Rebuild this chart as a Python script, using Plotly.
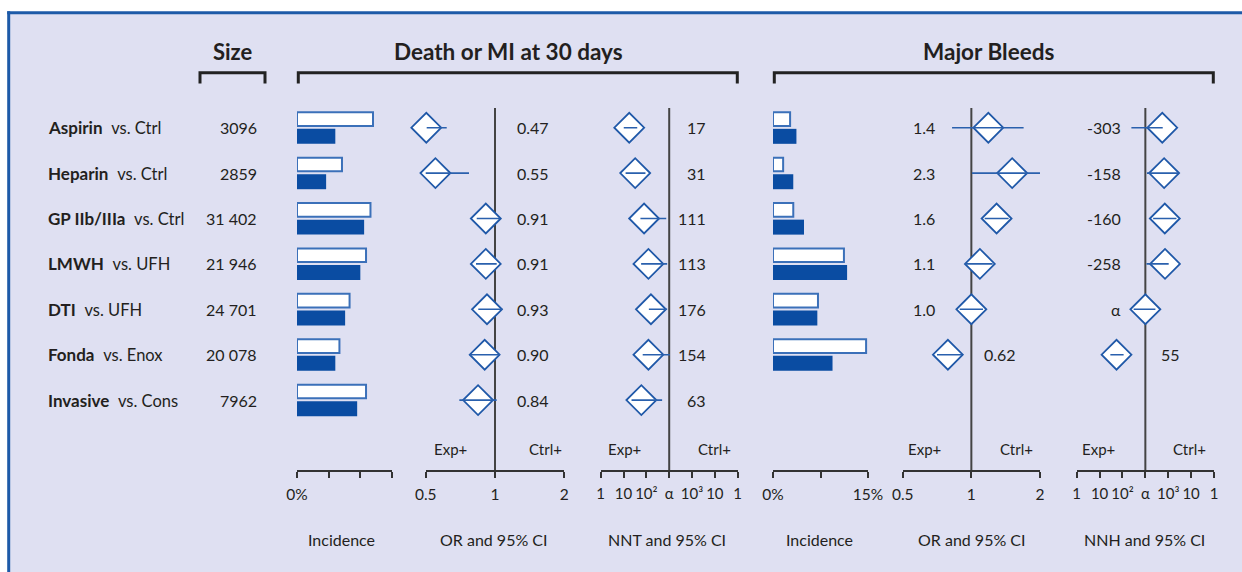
import plotly.graph_objects as go

W, H = 1242, 572
FONT = "Lato"
TXT = "#231f20"
LAV = "#dfe0f2"
FRAME = "#1d5aa8"
DARK = "#0a4ca2"
BAR_OUT = "#3b70b9"
OUT = "#1f58a8"
AXC = "#333333"

# ---------------- data ----------------
categories = ["Aspirin", "Heparin", "GP IIb/IIIa", "LMWH", "DTI", "Fonda", "Invasive"]
comparators = ["vs. Ctrl", "vs. Ctrl", "vs. Ctrl", "vs. UFH", "vs. UFH", "vs. Enox", "vs. Cons"]
sizes = ["3096", "2859", "31 402", "21 946", "24 701", "20 078", "7962"]

# Death or MI at 30 days
dm_inc_ctrl = [12.0, 7.1, 11.6, 10.9, 8.3, 6.7, 10.9]
dm_inc_exp = [6.05, 4.6, 10.6, 10.0, 7.6, 6.05, 9.5]
dm_or = [0.503, 0.551, 0.912, 0.912, 0.923, 0.902, 0.844]
dm_or_lo = [0.505, 0.472, 0.833, 0.827, 0.846, 0.774, 0.70]
dm_or_hi = [0.617, 0.771, 1.05, 1.017, 1.076, 1.05, 1.017]
dm_or_labels = ["0.47", "0.55", "0.91", "0.91", "0.93", "0.90", "0.84"]
# NNT axis position in log10 units from alpha (negative = Exp+ side)
dm_nnt_pos = [-1.75, -1.49, -1.10, -0.91, -0.80, -0.91, -1.22]
dm_nnt_lo = [-1.99, -1.91, -1.26, -1.23, -0.89, -1.16, -1.65]
dm_nnt_hi = [-1.40, -1.04, -0.13, -0.09, -0.09, 0.03, -0.31]
dm_nnt_labels = ["17", "31", "111", "113", "176", "154", "63"]

# Major bleeds
mb_inc_ctrl = [2.7, 1.6, 3.2, 11.2, 7.1, 14.7, None]
mb_inc_exp = [3.7, 3.2, 4.9, 11.7, 7.0, 9.4, None]
mb_or = [1.187, 1.51, 1.29, 1.09, 1.0, 0.789, None]
mb_or_lo = [0.823, 1.007, 1.144, 0.941, 0.889, 0.707, None]
mb_or_hi = [1.695, 2.0, 1.457, 1.24, 1.125, 0.91, None]
mb_or_labels = ["1.4", "2.3", "1.6", "1.1", "1.0", "0.62", ""]
mb_nnh_pos = [0.74, 0.82, 0.85, 0.86, 0.0, -1.26, None]
mb_nnh_lo = [-0.61, 0.07, 0.34, 0.05, -0.51, -1.53, None]
mb_nnh_hi = [0.76, 1.46, 1.36, 1.02, 0.44, -0.95, None]
mb_nnh_labels = ["-303", "-158", "-160", "-258", "\u03b1", "55", ""]

inc_ticks_dm = [0]
inc_ticktext_dm = ["0%"]
inc_minor_dm = [5, 10, 15]
inc_ticks_mb = [0, 15]
inc_ticktext_mb = ["0%", "15%"]
inc_minor_mb = [7.5]
or_ticks = [0.5, 1, 2]
or_ticktext = ["0.5", "1", "2"]
nn_ticks = [-3, -2, -1, 0, 1, 2, 3]
nn_ticktext = ["1", "10", "10\u00b2", "\u03b1", "10\u00b3", "10", "1"]

# ---------------- layout helpers ----------------
def px(p):
    return p / W

def py(p):
    return 1 - p / H

ROW0, ROWH = 127.7, 45.4
rows = list(range(len(categories)))
AXIS_Y = 471

fig = go.Figure()

def add_bars(xa, ctrl, exp):
    yc = [r - 0.19 for r, v in zip(rows, ctrl) if v is not None]
    ye = [r + 0.19 for r, v in zip(rows, exp) if v is not None]
    fig.add_trace(go.Bar(x=[v for v in ctrl if v is not None], y=yc, orientation="h", width=0.30,
                         marker=dict(color="white", line=dict(color=BAR_OUT, width=2)),
                         xaxis=xa, yaxis="y", showlegend=False, hoverinfo="skip"))
    fig.add_trace(go.Bar(x=[v for v in exp if v is not None], y=ye, orientation="h", width=0.33,
                         marker=dict(color=DARK, line=dict(width=0)),
                         xaxis=xa, yaxis="y", showlegend=False, hoverinfo="skip"))

def add_forest(xa, est, lo, hi):
    xs = [v for v in est if v is not None]
    ys = [r for r, v in zip(rows, est) if v is not None]
    fig.add_trace(go.Scatter(x=xs, y=ys, mode="markers", cliponaxis=False,
                             marker=dict(symbol="diamond", size=23, color="white",
                                         line=dict(color=OUT, width=1.8)),
                             xaxis=xa, yaxis="y", showlegend=False, hoverinfo="skip"))
    lx, ly = [], []
    for r, a, b in zip(rows, lo, hi):
        if a is None:
            continue
        lx += [a, b, None]
        ly += [r, r, None]
    fig.add_trace(go.Scatter(x=lx, y=ly, mode="lines", line=dict(color="#2a60ad", width=1.6),
                             xaxis=xa, yaxis="y", showlegend=False, hoverinfo="skip"))

add_bars("x", dm_inc_ctrl, dm_inc_exp)
add_forest("x2", dm_or, dm_or_lo, dm_or_hi)
add_forest("x3", dm_nnt_pos, dm_nnt_lo, dm_nnt_hi)
add_bars("x4", mb_inc_ctrl, mb_inc_exp)
add_forest("x5", mb_or, mb_or_lo, mb_or_hi)
add_forest("x6", mb_nnh_pos, mb_nnh_lo, mb_nnh_hi)

ax_common = dict(anchor="free", position=py(AXIS_Y), showline=True, linecolor=AXC, linewidth=2,
                 ticks="outside", ticklen=6, tickwidth=2, tickcolor=AXC, showgrid=False,
                 zeroline=False, tickmode="array", fixedrange=True, ticklabelstandoff=3,
                 automargin=False, tickangle=0, tickfont=dict(family=FONT, size=15.5, color=TXT))
nn_font = dict(family=FONT, size=15, color=TXT)
minor_common = dict(ticks="outside", ticklen=6, tickwidth=2, tickcolor=AXC, showgrid=False)

fig.update_layout(
    template="none",
    width=W, height=H, margin=dict(l=0, r=0, t=0, b=0, pad=0, autoexpand=False), autosize=False,
    paper_bgcolor="white", plot_bgcolor="rgba(0,0,0,0)",
    barmode="overlay", showlegend=False,
    font=dict(family=FONT, color=TXT),
    yaxis=dict(domain=[0, 1], range=[(H - ROW0) / ROWH, -ROW0 / ROWH], visible=False,
               fixedrange=True, automargin=False),
    xaxis=dict(ax_common, domain=[px(297), px(392)], range=[0, 15], tickvals=inc_ticks_dm,
               ticktext=inc_ticktext_dm, minor=dict(minor_common, tickvals=inc_minor_dm)),
    xaxis2=dict(ax_common, type="log", domain=[px(425.7), px(564.3)], range=[-0.30103, 0.30103],
                tickvals=or_ticks, ticktext=or_ticktext),
    xaxis3=dict(ax_common, domain=[px(600.7), px(737.7)], range=[-3, 3], tickvals=nn_ticks,
                ticktext=nn_ticktext, tickfont=nn_font),
    xaxis4=dict(ax_common, domain=[px(773), px(868)], range=[0, 15], tickvals=inc_ticks_mb,
                ticktext=inc_ticktext_mb, minor=dict(minor_common, tickvals=inc_minor_mb)),
    xaxis5=dict(ax_common, type="log", domain=[px(902.7), px(1040)], range=[-0.30103, 0.30103],
                tickvals=or_ticks, ticktext=or_ticktext),
    xaxis6=dict(ax_common, domain=[px(1076.7), px(1214)], range=[-3, 3], tickvals=nn_ticks,
                ticktext=nn_ticktext, tickfont=nn_font),
)

shapes = []
# background panel and frame
shapes.append(dict(type="rect", xref="paper", yref="paper", x0=px(9), x1=1.05, y0=-0.05, y1=py(12.7),
                   fillcolor=LAV, line=dict(width=0), layer="below"))
shapes.append(dict(type="line", xref="paper", yref="paper", x0=px(8.7), x1=px(8.7), y0=-0.05, y1=py(11.3),
                   line=dict(color=FRAME, width=3), layer="below"))
shapes.append(dict(type="line", xref="paper", yref="paper", x0=px(7.2), x1=1.05, y0=py(12.7), y1=py(12.7),
                   line=dict(color=FRAME, width=3), layer="below"))
# reference lines (OR = 1, NNT = alpha)
for xa in ["x2", "x3", "x5", "x6"]:
    shapes.append(dict(type="line", xref=xa + " domain", yref="paper", x0=0.5, x1=0.5,
                       y0=py(AXIS_Y), y1=py(108), line=dict(color="#444444", width=2), layer="below"))
# brackets
for x0, x1 in [(200, 265), (298.3, 737.3), (774.3, 1213.3)]:
    shapes.append(dict(type="path", xref="paper", yref="paper",
                       path=f"M {px(x0)},{py(83.5)} L {px(x0)},{py(72.7)} L {px(x1)},{py(72.7)} L {px(x1)},{py(83.5)}",
                       line=dict(color="#222222", width=3)))
fig.update_layout(shapes=shapes)

ann = []
def text(x, y, s, size, xanchor="center", bold=False, yref="paper"):
    ann.append(dict(x=x, y=y, xref="paper", yref=yref, text=f"<b>{s}</b>" if bold else s,
                    showarrow=False, xanchor=xanchor, yanchor="middle",
                    font=dict(family=FONT, size=size, color=TXT)))

# group titles
text(px(233), py(51.5), "Size", 22, bold=True)
text(px(508.5), py(51.5), "Death or MI at 30 days", 22.5, bold=True)
text(px(988), py(51.5), "Major Bleeds", 22.5, bold=True)

# row labels and sizes
for r, c, v, n in zip(rows, categories, comparators, sizes):
    ann.append(dict(x=px(46), y=r, xref="paper", yref="y", showarrow=False, xanchor="left", yanchor="middle",
                    text=f"<b>{c}</b>  <span style='font-size:16.5px'>{v}</span>",
                    font=dict(family=FONT, size=17, color=TXT)))
    text(px(258.5), r, n, 16, xanchor="right", yref="y")

# value labels
for r, s in zip(rows, dm_or_labels):
    text(px(515), r, s, 16, xanchor="left", yref="y")
for r, s in zip(rows, dm_nnt_labels):
    text(px(708), r, s, 16, xanchor="right", yref="y")
for r, s, e in zip(rows, mb_or_labels, mb_or):
    if e is None:
        continue
    if e < 1:
        text(px(981.7), r, s, 16, xanchor="left", yref="y")
    else:
        text(px(937), r, s, 16, xanchor="right", yref="y")
for r, s, e in zip(rows, mb_nnh_labels, mb_nnh_pos):
    if e is None:
        continue
    if e < 0:
        text(px(1159.3), r, s, 16, xanchor="left", yref="y")
    else:
        text(px(1123), r, s, 16, xanchor="right", yref="y")

# Exp+/Ctrl+ labels
for cx in [450, 624, 924.7, 1098]:
    text(px(cx), py(449), "Exp+", 15)
for cx in [545, 714, 1016, 1189.5]:
    text(px(cx), py(449), "Ctrl+", 15)

# axis titles
for cx, s in [(341.7, "Incidence"), (493.5, "OR and 95% CI"), (666.7, "NNT and 95% CI"),
              (819.5, "Incidence"), (971.7, "OR and 95% CI"), (1144.7, "NNH and 95% CI")]:
    text(px(cx), py(539.5), s, 16)

fig.update_layout(annotations=ann)
fig.write_html("out.html", config={"responsive": False, "displayModeBar": False},
               post_script="document.body.style.margin='0px';")
